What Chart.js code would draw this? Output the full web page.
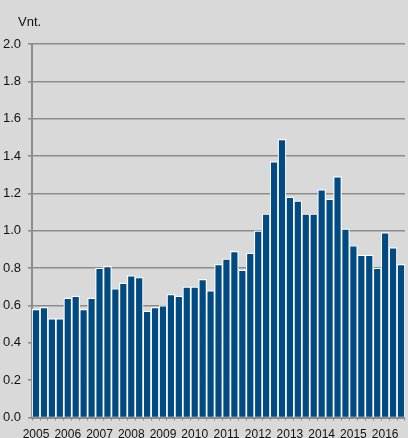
<!DOCTYPE html>
<html>
<head>
<meta charset="utf-8">
<script src="https://cdn.jsdelivr.net/npm/chart.js@4"></script>
<style>
  html, body { margin: 0; padding: 0; background: #d9d9d9; overflow: hidden; }
  #wrap { position: relative; width: 408px; height: 438px; }
</style>
</head>
<body>
<div id="wrap"><canvas id="c" width="408" height="438"></canvas></div>
<script>
const years = ["2005","2006","2007","2008","2009","2010","2011","2012","2013","2014","2015","2016"];
const quarters = ["Q1","Q2","Q3","Q4"];
const values = [
  0.58, 0.59, 0.53, 0.53,
  0.64, 0.65, 0.58, 0.64,
  0.80, 0.81, 0.69, 0.72,
  0.76, 0.75, 0.57, 0.59,
  0.60, 0.66, 0.65, 0.70,
  0.70, 0.74, 0.68, 0.82,
  0.85, 0.89, 0.79, 0.88,
  1.00, 1.09, 1.37, 1.49,
  1.18, 1.16, 1.09, 1.09,
  1.22, 1.17, 1.29, 1.01,
  0.92, 0.87, 0.87, 0.80,
  0.99, 0.91, 0.82
];
const yTicks = [0, 0.2, 0.4, 0.6, 0.8, 1.0, 1.2, 1.4, 1.6, 1.8, 2.0];
const unitLabel = "Vnt.";

const categories = values.map((v, i) => years[Math.floor(i / 4)] + quarters[i % 4]);

const unitPlugin = {
  id: 'unitLabel',
  afterDraw(chart) {
    const ctx = chart.ctx;
    ctx.save();
    ctx.font = '13px "Liberation Sans", Arial, sans-serif';
    ctx.fillStyle = '#111';
    ctx.textAlign = 'left';
    ctx.textBaseline = 'middle';
    ctx.fillText(unitLabel, 18, 22);
    ctx.restore();
  }
};

new Chart(document.getElementById('c'), {
  type: 'bar',
  data: {
    labels: categories,
    datasets: [{
      data: values,
      backgroundColor: '#024a82',
      borderColor: '#ffffff',
      borderWidth: 1.2,
      barPercentage: 1,
      categoryPercentage: 1
    }]
  },
  options: {
    responsive: false,
    animation: false,
    layout: { padding: { top: 44, right: 0, left: -4, bottom: -11 } },
    plugins: { legend: { display: false }, tooltip: { enabled: false } },
    scales: {
      x: {
        offset: true,
        grid: { display: true, drawOnChartArea: false, drawTicks: true, tickLength: 3, color: '#8c8c8c', lineWidth: 1, offset: true },
        border: { display: true, color: '#8c8c8c', width: 2 },
        ticks: {
          autoSkip: false,
          maxRotation: 0,
          minRotation: 0,
          padding: 7,
          color: '#111',
          font: { family: '"Liberation Sans", Arial, sans-serif', size: 12 },
          callback: function(val, idx) { return idx % 4 === 0 ? years[idx / 4] : ''; }
        }
      },
      y: {
        min: 0,
        max: 2.0,
        afterBuildTicks: (scale) => { scale.ticks = yTicks.map(v => ({ value: v })); },
        grid: { color: '#8c8c8c', lineWidth: 1.6, tickLength: 4, drawTicks: true },
        border: { display: true, color: '#8c8c8c', width: 2 },
        ticks: {
          padding: 7,
          color: '#111',
          font: { family: '"Liberation Sans", Arial, sans-serif', size: 13 },
          callback: (v) => Number(v).toFixed(1)
        }
      }
    }
  },
  plugins: [unitPlugin]
});
</script>
</body>
</html>
